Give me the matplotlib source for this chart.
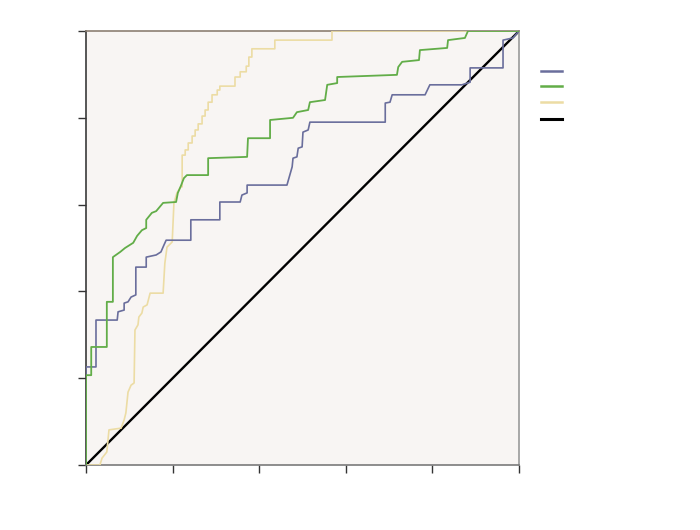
import matplotlib
matplotlib.use("Agg")
import matplotlib.pyplot as plt
from matplotlib.lines import Line2D

# ROC curves (false positive rate, true positive rate)
blue_fpr = [0, 0, 0.023, 0.023, 0.072, 0.074, 0.088, 0.088, 0.097, 0.104,
            0.115, 0.115, 0.139, 0.139, 0.162, 0.173, 0.180, 0.185, 0.242, 0.242,
            0.309, 0.309, 0.356, 0.360, 0.372, 0.372, 0.464, 0.476, 0.478, 0.487,
            0.490, 0.499, 0.501, 0.513, 0.517, 0.691, 0.691, 0.702, 0.707, 0.783,
            0.794, 0.868, 0.887, 0.887, 0.963, 0.963, 0.986, 0.998, 1]
blue_tpr = [0, 0.226, 0.226, 0.334, 0.334, 0.353, 0.357, 0.373, 0.376, 0.387,
            0.392, 0.456, 0.456, 0.479, 0.484, 0.491, 0.507, 0.518, 0.518, 0.565,
            0.565, 0.606, 0.606, 0.622, 0.627, 0.645, 0.645, 0.687, 0.707, 0.710,
            0.730, 0.733, 0.767, 0.772, 0.790, 0.790, 0.834, 0.836, 0.853, 0.853,
            0.876, 0.876, 0.882, 0.915, 0.915, 0.979, 0.984, 0.998, 1]

green_fpr = [0, 0, 0.012, 0.012, 0.048, 0.048, 0.062, 0.062, 0.079, 0.090,
             0.109, 0.118, 0.129, 0.139, 0.139, 0.152, 0.162, 0.178, 0.208, 0.212,
             0.219, 0.226, 0.233, 0.282, 0.282, 0.372, 0.374, 0.425, 0.425, 0.478,
             0.487, 0.513, 0.517, 0.552, 0.557, 0.580, 0.580, 0.718, 0.721, 0.730,
             0.769, 0.771, 0.834, 0.836, 0.875, 0.882, 1]
green_tpr = [0, 0.207, 0.207, 0.272, 0.272, 0.376, 0.376, 0.479, 0.491, 0.500,
             0.512, 0.528, 0.541, 0.546, 0.565, 0.581, 0.585, 0.604, 0.606, 0.627,
             0.643, 0.661, 0.668, 0.668, 0.707, 0.710, 0.753, 0.753, 0.795, 0.800,
             0.813, 0.818, 0.836, 0.841, 0.876, 0.880, 0.894, 0.899, 0.917, 0.929,
             0.933, 0.956, 0.961, 0.979, 0.984, 1, 1]

yellow_fpr = [0, 0.032, 0.037, 0.048, 0.053, 0.081, 0.088, 0.092, 0.097, 0.104,
              0.111, 0.113, 0.120, 0.122, 0.129, 0.132, 0.141, 0.148, 0.178, 0.182,
              0.187, 0.199, 0.203, 0.210, 0.219,
              0.222, 0.222, 0.229, 0.229, 0.236, 0.236, 0.245, 0.245, 0.252, 0.252,
              0.259, 0.259, 0.268, 0.268, 0.275, 0.275, 0.282, 0.282, 0.291, 0.291,
              0.303, 0.303, 0.309, 0.309, 0.344, 0.344, 0.356, 0.356, 0.370, 0.370,
              0.376, 0.376, 0.383, 0.383, 0.436, 0.436, 0.568, 0.568, 1]
yellow_tpr = [0, 0, 0.016, 0.030, 0.081, 0.085, 0.104, 0.120, 0.168, 0.184,
              0.189, 0.311, 0.323, 0.341, 0.350, 0.364, 0.369, 0.396, 0.396, 0.465,
              0.502, 0.514, 0.604, 0.627, 0.641,
              0.641, 0.714, 0.714, 0.726, 0.726, 0.742, 0.742, 0.758, 0.758, 0.772,
              0.772, 0.786, 0.786, 0.804, 0.804, 0.818, 0.818, 0.836, 0.836, 0.853,
              0.853, 0.864, 0.864, 0.873, 0.873, 0.894, 0.894, 0.906, 0.906, 0.919,
              0.919, 0.940, 0.940, 0.959, 0.959, 0.979, 0.979, 1, 1]

ref_line = [0, 1]
ticks = [0, 0.2, 0.4, 0.6, 0.8, 1.0]

colors = ["#6a6e9c", "#62ad48", "#ecdca4", "#000000"]

fig = plt.figure(figsize=(7, 5.3), dpi=100)
ax = fig.add_axes([0.1229, 0.1226, 0.6186, 0.8189])
ax.set_facecolor("#f8f5f3")

ax.plot(ref_line, ref_line, color=colors[3], lw=1.7, zorder=2)
ax.plot(yellow_fpr, yellow_tpr, color=colors[2], lw=1.2, zorder=3)
ax.plot(blue_fpr, blue_tpr, color=colors[0], lw=1.2, zorder=4)
ax.plot(green_fpr, green_tpr, color=colors[1], lw=1.3, zorder=5)

ax.set_xlim(0, 1)
ax.set_ylim(0, 1)
ax.set_xticks(ticks)
ax.set_yticks(ticks)
ax.set_xticklabels([])
ax.set_yticklabels([])
ax.tick_params(direction="out", length=6, width=1, color="#333333")

ax.spines["left"].set_color("#3a3a3a")
ax.spines["bottom"].set_color("#7a7a7a")
ax.spines["top"].set_color("#8c7f72")
ax.spines["right"].set_color("#9a9a9a")
for s in ax.spines.values():
    s.set_linewidth(1.2)

# legend keys (no text in the reference)
legend_y = [1 - 71 / 530, 1 - 86 / 530, 1 - 102 / 530, 1 - 119 / 530]
for c, y in zip(colors, legend_y):
    lw = 2.2 if c == "#000000" else 1.8
    fig.add_artist(Line2D([541 / 700, 562 / 700], [y, y], color=c, lw=lw,
                          transform=fig.transFigure))

fig.savefig("out.png", dpi=100)
